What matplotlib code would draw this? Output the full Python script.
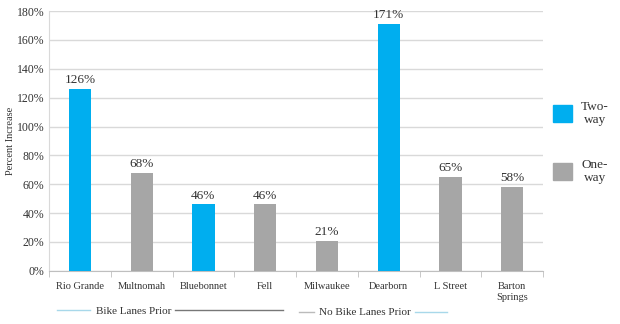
import numpy as np
import matplotlib.pyplot as plt
from matplotlib.patches import Rectangle
from matplotlib.lines import Line2D

streets = ['Rio Grande', 'Multnomah', 'Bluebonnet', 'Fell', 'Milwaukee',
           'Dearborn', 'L Street', 'Barton\nSprings']
increase = [126, 68, 46, 46, 21, 171, 65, 58]
two_way = [True, False, True, False, False, True, False, False]

blue = '#00AEEF'
gray = '#A6A6A6'
txt = '#333333'

plt.rcParams['font.family'] = ['Liberation Serif', 'DejaVu Serif']

fig = plt.figure(figsize=(6.2, 3.24), dpi=100)
ax = fig.add_axes([0.079, 0.164, 0.797, 0.802])

x = np.arange(len(streets))
colors = [blue if t else gray for t in two_way]
ax.bar(x, increase, width=0.36, color=colors, zorder=3)
for xi, v in zip(x, increase):
    ax.text(xi, v + 2, f'{v}%', ha='center', va='bottom', fontsize=9.5,
            color=txt)

ax.set_xlim(-0.5, len(streets) - 0.5)
ax.set_ylim(0, 180)
ax.set_yticks(range(0, 181, 20))
ax.set_yticklabels([f'{t}%' for t in range(0, 181, 20)], fontsize=8.5)
ax.set_xticks(x)
ax.set_xticklabels(streets, linespacing=1.3, fontsize=7.5)
ax.tick_params(axis='both', colors=txt, length=0)
ax.tick_params(axis='x', pad=8)
ax.set_xticks(np.arange(len(streets) + 1) - 0.5, minor=True)
ax.tick_params(axis='x', which='minor', length=4, color='#bfbfbf')
ax.yaxis.grid(True, color='#d9d9d9', lw=1)
for s in ['top', 'right']:
    ax.spines[s].set_visible(False)
ax.spines['left'].set_color('#d9d9d9')
ax.spines['bottom'].set_color('#bfbfbf')
ax.set_ylabel('Percent Increase', fontsize=7.5, color=txt)
ax.yaxis.set_label_coords(-0.068, 0.5)

# group labels below the street names
fig.text(134 / 620, 0.04, 'Bike Lanes Prior', fontsize=8, color=txt,
         ha='center', va='center')
fig.text(365 / 620, 0.034, 'No Bike Lanes Prior', fontsize=8, color=txt,
         ha='center', va='center')
for x0, x1, y, c in [(57, 90, 0.042, '#a8d8ea'), (175, 283, 0.042, '#777777'),
                     (299, 314, 0.036, '#bbbbbb'), (415, 447, 0.036, '#a8d8ea')]:
    fig.add_artist(Line2D([x0 / 620, x1 / 620], [y, y], color=c, lw=1))

# legend
for y, c, lab in [(0.623, blue, 'Two-\nway'), (0.445, gray, 'One-\nway')]:
    fig.add_artist(Rectangle((553 / 620, y), 19 / 620, 17 / 324,
                             color=c, transform=fig.transFigure))
    fig.text(595 / 620, y + 8.5 / 324, lab, fontsize=9.5, color=txt,
             ha='center', va='center', linespacing=1.1)

fig.savefig('out.png', dpi=100)
